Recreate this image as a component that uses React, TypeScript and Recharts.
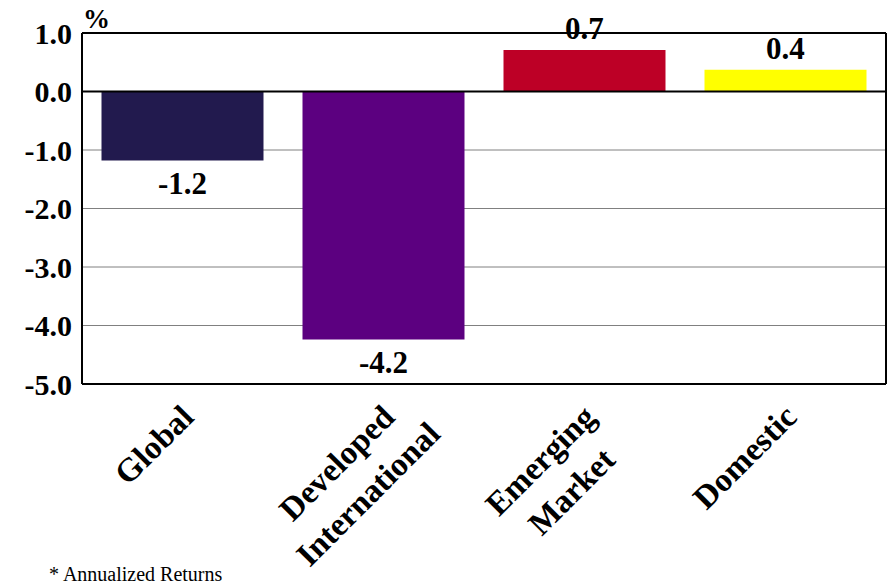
import { BarChart, Bar, XAxis, YAxis, CartesianGrid, ReferenceLine, Cell, LabelList } from 'recharts';

const categories = ['Global', 'Developed\nInternational', 'Emerging\nMarket', 'Domestic'];
const returns = [-1.18, -4.24, 0.71, 0.37];
const barColors = ['#221a4e', '#5c0080', '#bd0026', '#ffff00'];
const yTicks = [1, 0, -1, -2, -3, -4, -5];
const unitLabel = '%';
const footnote = '* Annualized Returns';

const data = categories.map((name, i) => ({ name, value: returns[i] }));

const FONT = "'Liberation Serif', serif";

// measure text so the lines of a rotated label can be centred on each other
let measureCtx: CanvasRenderingContext2D | null = null;
const measure = (s: string, fs: number) => {
    if (!measureCtx) measureCtx = document.createElement('canvas').getContext('2d');
    if (!measureCtx) return s.length * fs * 0.5;
    measureCtx.font = `bold ${fs}px 'Liberation Serif'`;
    return measureCtx.measureText(s).width;
};

const CategoryTick = ({ x, y, payload }: any) => {
    const lines: string[] = String(payload.value).split('\n');
    const fs = 33;
    const w0 = measure(lines[0], fs);
    return (
        <g transform={`translate(${x + 13},${y + 35}) rotate(-45)`}>
            {lines.map((l, i) => (
                <text key={i} x={-w0 / 2} y={i * 44} textAnchor="middle"
                    style={{ fontFamily: FONT, fontWeight: 700, fontSize: fs }} fill="#000">{l}</text>
            ))}
        </g>
    );
};

const ValueLabel = ({ x, y, width, height, value }: any) => {
    const top = Math.min(y, y + height);
    const bottom = Math.max(y, y + height);
    const ty = value < 0 ? bottom + 33 : top - 11;
    return (
        <text x={x + width / 2} y={ty} textAnchor="middle" style={{ fontFamily: FONT, fontWeight: 700, fontSize: 31 }} fill="#000">
            {Number(value).toFixed(1)}
        </text>
    );
};

export default function App() {
    return (
        <div style={{ position: 'absolute', left: 0, top: 0, width: 890, height: 582, background: '#fff', overflow: 'hidden', fontFamily: FONT }}>
            <BarChart width={890} height={582} data={data} margin={{ top: 33, right: 0, left: 0, bottom: 0 }}
                barCategoryGap="9.7%">
                <CartesianGrid vertical={false} stroke="#808080" strokeWidth={1} />
                <XAxis dataKey="name" interval={0} height={198} tickLine={false} tickSize={0} tickMargin={0}
                    axisLine={{ stroke: '#000', strokeWidth: 2 }} tick={<CategoryTick />} />
                <YAxis domain={[-5, 1]} ticks={yTicks} width={82} tickLine={false} tickSize={0} tickMargin={10}
                    axisLine={{ stroke: '#000', strokeWidth: 2 }} tickFormatter={(v: number) => v.toFixed(1)}
                    tick={{ style: { fontFamily: FONT, fontWeight: 700, fontSize: 30 }, fill: '#000' }} interval={0} />
                <YAxis yAxisId="right" orientation="right" domain={[-5, 1]} ticks={yTicks} width={4} tick={false}
                    tickLine={false} axisLine={{ stroke: '#000', strokeWidth: 2 }} />
                <ReferenceLine y={1} stroke="#000" strokeWidth={2} />
                <ReferenceLine y={0} stroke="#000" strokeWidth={2} />
                <Bar dataKey="value" isAnimationActive={false}>
                    {data.map((_, i) => <Cell key={i} fill={barColors[i]} />)}
                    <LabelList dataKey="value" content={<ValueLabel />} />
                </Bar>
            </BarChart>
            <svg width={890} height={582} style={{ position: 'absolute', left: 0, top: 0, pointerEvents: 'none' }}>
                <text x={83} y={28} style={{ fontFamily: FONT, fontWeight: 700, fontSize: 27 }} fill="#000">{unitLabel}</text>
                <text x={49} y={581} style={{ fontFamily: FONT, fontSize: 20 }} fill="#000">{footnote}</text>
            </svg>
        </div>
    );
}
